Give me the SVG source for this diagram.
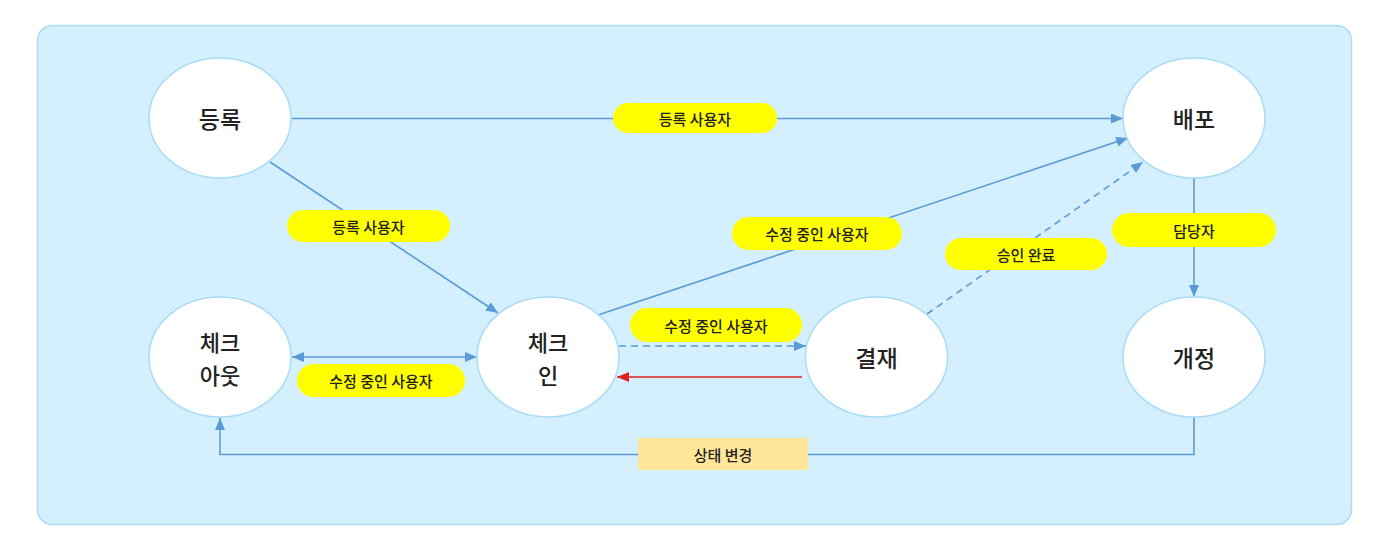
<svg xmlns="http://www.w3.org/2000/svg" width="1397" height="542" viewBox="0 0 1397 542">
<style>
.node ellipse{fill:#ffffff;stroke:#a9dcf5;stroke-width:1.5}
.node text{font-family:"Noto Sans CJK KR","Noto Sans",sans-serif;font-size:23px;font-weight:500;fill:#222;text-anchor:middle;dominant-baseline:central}
.node text.two{font-size:22px}
.edge{fill:none;stroke:#5b9bd5;stroke-width:1.6}
.dash{stroke-dasharray:7 5}
.red{stroke:#e02020}
.pill{fill:#ffff00}
.box{fill:#ffe699}
.lbl{font-family:"Noto Sans CJK KR","Noto Sans",sans-serif;font-size:15px;font-weight:500;fill:#222;text-anchor:middle;dominant-baseline:central}
</style>
<defs>
<marker id="ah" viewBox="0 0 12 10" refX="12" refY="5" markerWidth="12" markerHeight="10" markerUnits="userSpaceOnUse" orient="auto-start-reverse"><path d="M0,0 L12,5 L0,10 z" fill="#5b9bd5"/></marker>
<marker id="ahr" viewBox="0 0 12 10" refX="12" refY="5" markerWidth="12" markerHeight="10" markerUnits="userSpaceOnUse" orient="auto"><path d="M0,0 L12,5 L0,10 z" fill="#e02020"/></marker>
</defs>
<rect x="37.5" y="25.5" width="1314" height="499" rx="15" fill="#d4effd" stroke="#a9dcf5" stroke-width="1.5"/>
<g id="connectors">
<path class="edge" d="M292,118.5 L1123,118.5" marker-end="url(#ah)"/>
<path class="edge" d="M270,162 L498,313" marker-end="url(#ah)"/>
<path class="edge" d="M598,315 L1128,138" marker-end="url(#ah)"/>
<path class="edge dash" d="M927,314 L1143,162" marker-end="url(#ah)"/>
<path class="edge" d="M1194,178 L1194,297" marker-end="url(#ah)"/>
<path class="edge" d="M292,357 L477,357" marker-start="url(#ah)" marker-end="url(#ah)"/>
<path class="edge dash" d="M619,346 L806,346" marker-end="url(#ah)"/>
<path class="edge red" d="M802,377 L617,377" marker-end="url(#ahr)"/>
<path class="edge" d="M1194,417 L1194,454.5 L220,454.5 L220,418" marker-end="url(#ah)"/>
<rect class="pill" x="613" y="103" width="164" height="30" rx="15"/>
<text class="lbl" x="695" y="118">등록 사용자</text>
<rect class="pill" x="287" y="210" width="163" height="32" rx="16"/>
<text class="lbl" x="368.5" y="226">등록 사용자</text>
<rect class="pill" x="732" y="217" width="170" height="33" rx="16.5"/>
<text class="lbl" x="817" y="233.5">수정 중인 사용자</text>
<rect class="pill" x="945" y="238" width="162" height="32" rx="16"/>
<text class="lbl" x="1026" y="254">승인 완료</text>
<rect class="pill" x="1112" y="213" width="164" height="34" rx="17"/>
<text class="lbl" x="1194" y="230">담당자</text>
<rect class="pill" x="630" y="308" width="172" height="34" rx="17"/>
<text class="lbl" x="716" y="325">수정 중인 사용자</text>
<rect class="pill" x="297" y="364" width="168" height="33" rx="16.5"/>
<text class="lbl" x="381" y="380.5">수정 중인 사용자</text>
<rect class="box" x="638" y="438" width="170" height="32"/>
<text class="lbl" x="723" y="454">상태 변경</text>
</g>
<g id="node-register" class="node"><ellipse cx="220" cy="118" rx="71" ry="60"/><text x="220" y="118">등록</text></g>
<g id="node-deploy" class="node"><ellipse cx="1194" cy="118" rx="71" ry="60"/><text x="1194" y="118">배포</text></g>
<g id="node-checkout" class="node"><ellipse cx="220" cy="357" rx="71" ry="60"/><text class="two" x="220" y="341">체크</text><text class="two" x="220" y="374">아웃</text></g>
<g id="node-checkin" class="node"><ellipse cx="548" cy="357" rx="71" ry="60"/><text class="two" x="548" y="341">체크</text><text class="two" x="548" y="374">인</text></g>
<g id="node-approval" class="node"><ellipse cx="876.5" cy="357" rx="71" ry="60"/><text x="876.5" y="357">결재</text></g>
<g id="node-revision" class="node"><ellipse cx="1194" cy="357" rx="71" ry="60"/><text x="1194" y="357">개정</text></g>
</svg>
